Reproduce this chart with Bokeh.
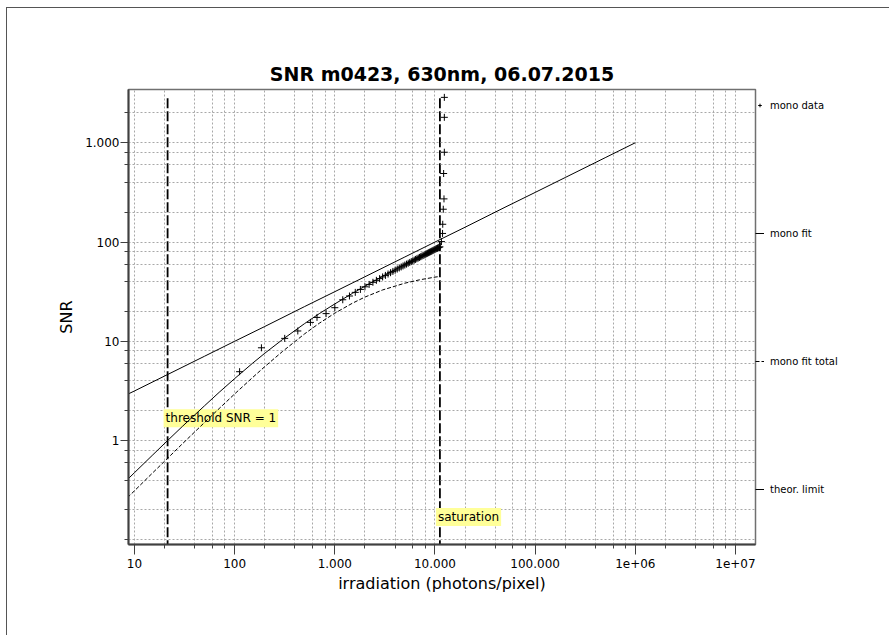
from bokeh.plotting import figure
from bokeh.models import (FixedTicker, CustomJSTickFormatter, Legend, LegendItem,
                          Label, Range1d)
from bokeh.embed import file_html
from bokeh.resources import INLINE

# ---------------- data ----------------
theor_x = [8.5, 10, 20, 50, 100, 200, 500, 1000, 2000, 5000, 10000, 20000,
           50000, 100000, 200000, 500000, 1000000]
theor_y = [2.92, 3.16, 4.47, 7.07, 10.0, 14.1, 22.4, 31.6, 44.7, 70.7, 100,
           141, 224, 316, 447, 707, 1000]

fit_x = [8.5, 10, 15, 21.4, 30, 50, 70, 100, 150, 200, 300, 500, 700, 1000,
         1500, 2000, 3000, 5000, 7000, 10000, 11200]
fit_y = [0.405, 0.475, 0.707, 1.0, 1.385, 2.24, 3.06, 4.21, 5.98, 7.58, 10.4,
         15.1, 19.0, 23.8, 30.4, 35.9, 45.1, 59.4, 70.9, 85.2, 90.4]

total_x = fit_x
total_y = [0.266, 0.312, 0.467, 0.663, 0.925, 1.52, 2.10, 2.95, 4.29, 5.56,
           7.89, 11.9, 15.2, 19.2, 24.2, 27.9, 32.9, 38.5, 41.6, 44.3, 45.0]

data_x = [112, 185, 316, 427, 571, 664, 818,
          1000, 1200, 1400, 1600, 1800, 2000, 2200, 2400, 2600, 2800,
          3000, 3200, 3400, 3600, 3800, 4000, 4200, 4400, 4600, 4800,
          5000, 5200, 5400, 5600, 5800, 6000, 6200, 6400, 6600, 6800,
          7000, 7200, 7400, 7600, 7800, 8000, 8200, 8400, 8600, 8800,
          9000, 9200, 9400, 9600, 9800, 10000, 10200, 10400, 10600, 10800,
          11000, 11200,
          11600, 11900, 11950, 12100, 12300, 12200, 12400, 12400, 12400]
data_y = [4.94, 8.6, 10.7, 12.7, 15.5, 17.4, 19.0,
          21.8, 26.2, 28.6, 31.1, 33.3, 35.4, 37.4, 39.3, 41.1, 42.8,
          44.5, 46.1, 47.6, 49.1, 50.6, 52.0, 53.4, 54.8, 56.1, 57.4,
          58.6, 59.9, 61.1, 62.3, 63.5, 64.6, 65.7, 66.8, 67.9, 69.0,
          70.0, 71.1, 72.1, 73.1, 74.1, 75.1, 76.1, 77.0, 78.0, 78.9,
          79.8, 80.7, 81.6, 82.5, 83.4, 84.3, 85.1, 86.0, 86.8, 87.7,
          88.5, 89.4,
          101, 122, 151, 214, 272, 490, 803, 1804, 2866]

threshold_x = 21.4
saturation_x = 11200
marker_line_y = [2800, 0.05]

x_major = [10, 100, 1000, 10000, 100000, 1000000, 10000000]
x_labels = ["10", "100", "1.000", "10.000", "100.000", "1e+06", "1e+07"]
x_minor = [20, 40, 60, 80, 200, 400, 600, 800, 2000, 4000, 6000, 8000,
           20000, 40000, 60000, 80000, 200000, 400000, 600000, 800000,
           2000000, 4000000, 6000000, 8000000]
y_major = [1, 10, 100, 1000]
y_labels = ["1", "10", "100", "1.000"]
y_minor = [0.1, 0.2, 0.4, 0.6, 0.8, 2, 4, 6, 8, 20, 40, 60, 80,
           200, 400, 600, 800, 2000]

FONT = "DejaVu Sans"

p = figure(frame_width=627, frame_height=455, x_axis_type="log", y_axis_type="log",
           x_range=Range1d(8.71, 1.585e7), y_range=Range1d(0.0897, 3440),
           output_backend="svg", toolbar_location=None,
           min_border_left=121, min_border_right=133,
           min_border_top=81, min_border_bottom=91,
           title="SNR m0423, 630nm, 06.07.2015")
p.styles = {"margin-left": "6px", "margin-top": "7px",
            "border-left": "1px solid #555", "border-top": "1px solid #555"}

p.title.align = "center"
p.title.text_font = FONT
p.title.text_font_size = "19px"
p.title.text_font_style = "bold"
p.title.text_color = "black"
p.title.standoff = 10

p.outline_line_color = "#707070"
p.outline_line_width = 1.5

fmt_code = """
const i = vals.findIndex(v => Math.abs(Math.log10(v) - Math.log10(tick)) < 1e-6);
return i >= 0 ? labs[i] : "";
"""
p.xaxis.ticker = FixedTicker(ticks=x_major, minor_ticks=x_minor)
p.yaxis.ticker = FixedTicker(ticks=y_major, minor_ticks=y_minor)
p.xaxis.formatter = CustomJSTickFormatter(args=dict(vals=x_major, labs=x_labels), code=fmt_code)
p.yaxis.formatter = CustomJSTickFormatter(args=dict(vals=y_major, labs=y_labels), code=fmt_code)

for ax in (p.xaxis, p.yaxis):
    ax.axis_line_color = "#404040"
    ax.axis_line_width = 2
    ax.major_tick_line_color = "#404040"
    ax.minor_tick_line_color = "#404040"
    ax.major_tick_in = 0
    ax.minor_tick_in = 0
    ax.major_label_text_font = FONT
    ax.major_label_text_font_size = "12px"
    ax.major_label_text_color = "black"
    ax.axis_label_text_font = FONT
    ax.axis_label_text_font_size = "16px"
    ax.axis_label_text_font_style = "normal"
    ax.axis_label_text_color = "black"

p.xaxis.major_tick_out = 10
p.xaxis.minor_tick_out = 4
p.xaxis.major_label_standoff = 4
p.xaxis.axis_label = "irradiation (photons/pixel)"
p.xaxis.axis_label_standoff = 3
p.yaxis.major_tick_out = 8
p.yaxis.minor_tick_out = 4
p.yaxis.major_label_standoff = 1
p.yaxis.axis_label = "SNR"
p.yaxis.axis_label_standoff = 6

for g in (p.xgrid, p.ygrid):
    g.grid_line_color = "#a8a8a8"
    g.grid_line_dash = "2 2"
    g.minor_grid_line_color = "#a8a8a8"
    g.minor_grid_line_dash = "2 2"

# vertical marker lines (drawn beneath the labels)
p.line([threshold_x, threshold_x], marker_line_y, line_color="black",
       line_width=1.8, line_dash="10 3", level="image")
p.line([saturation_x, saturation_x], marker_line_y, line_color="black",
       line_width=1.8, line_dash="10 3", level="image")

lab_kw = dict(x_units="data", y_units="data", text_font=FONT,
              text_font_size="12px", text_color="black",
              background_fill_color="#ffff99", text_baseline="middle",
              x_offset=-4, padding=2, level="underlay")
p.add_layout(Label(x=threshold_x, y=1.68, text="threshold SNR = 1", **lab_kw))
p.add_layout(Label(x=saturation_x, y=0.17, text="saturation", **lab_kw))

r_data = p.scatter(data_x, data_y, marker="cross", size=7, line_color="black",
                   line_width=1)
r_fit = p.line(fit_x, fit_y, line_color="black", line_width=1)
r_total = p.line(total_x, total_y, line_color="black", line_width=1,
                 line_dash="4 2")
r_theor = p.line(theor_x, theor_y, line_color="black", line_width=1)

legend = Legend(items=[LegendItem(label="mono data", renderers=[r_data]),
                       LegendItem(label="mono fit", renderers=[r_fit]),
                       LegendItem(label="mono fit total", renderers=[r_total]),
                       LegendItem(label="theor. limit", renderers=[r_theor])],
                location="top_left", orientation="vertical",
                spacing=96, margin=0, padding=5,
                glyph_width=9, glyph_height=32, label_height=32,
                label_standoff=6, label_text_font=FONT,
                label_text_font_size="10px", label_text_color="black",
                border_line_color=None, background_fill_alpha=0)
p.add_layout(legend, "right")

open("out.html", "w").write(file_html(p, INLINE))
